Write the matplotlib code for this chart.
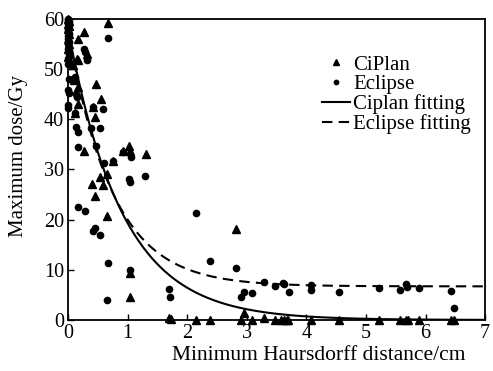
import numpy as np
import matplotlib
matplotlib.use("Agg")
import matplotlib.pyplot as plt

plt.rcParams['font.family'] = ['Liberation Serif', 'DejaVu Serif']
plt.rcParams['mathtext.fontset'] = 'stix'

# CiPlan data (triangles)
ciplan_x = [0.00, 0.01, 0.00, 0.02, 0.00, 0.01, 0.00, 0.02, 0.00, 0.01, 0.00, 0.03,
            0.67, 0.27, 0.16, 0.31, 0.17, 0.08, 0.15, 0.47, 0.55, 0.42, 0.45, 0.10,
            0.17, 0.17, 0.12, 0.27, 0.93, 1.03, 1.31, 1.04, 0.65, 0.75, 0.41, 0.53,
            0.59, 0.46, 0.65, 1.04, 1.04, 2.82,
            1.70, 1.72, 2.15, 2.39, 2.96, 2.91, 3.08, 3.29, 3.47, 3.58, 3.63, 3.67,
            3.69, 4.07, 4.55, 5.22, 5.57, 5.68, 5.71, 5.89, 6.42, 6.48]
ciplan_y = [60.0, 59.5, 59.0, 58.5, 58.0, 57.0, 56.0, 55.0, 54.0, 53.0, 52.5, 51.5,
            59.2, 57.3, 55.9, 53.1, 51.8, 50.8, 52.1, 47.1, 44.0, 42.5, 40.5, 47.8,
            46.4, 43.0, 41.2, 33.7, 33.7, 34.7, 33.1, 33.6, 29.1, 31.7, 27.1, 28.4,
            26.9, 24.7, 20.7, 9.4, 4.5, 18.1,
            0.4, 0.2, 0.0, 0.0, 1.3, 0.0, 0.0, 0.3, 0.0, 0.0, 0.0, 0.0,
            0.0, 0.0, 0.0, 0.0, 0.0, 0.0, 0.0, 0.0, 0.0, 0.0]

# Eclipse data (circles)
eclipse_x = [0.00, 0.00, 0.01, 0.00, 0.01, 0.00, 0.00, 0.01, 0.00, 0.00, 0.01, 0.00,
             0.00, 0.01, 0.00, 0.00, 0.02, 0.00, 0.02, 0.00, 0.00,
             0.67, 0.27, 0.31, 0.29, 0.12, 0.15, 0.13, 0.12, 0.59, 0.42, 0.13, 0.17,
             0.54, 0.38, 0.16, 0.47, 0.60, 0.75, 0.93, 1.06, 1.29, 1.03, 1.04, 0.16,
             0.29, 0.42, 0.53, 0.45, 0.67, 0.65, 1.04, 1.69, 1.71, 2.15, 2.39, 2.82,
             2.90, 2.96, 3.08, 3.29, 3.47, 3.60, 3.62, 3.71, 4.07, 4.07, 4.55, 5.22,
             5.57, 5.68, 5.69, 5.89, 6.42, 6.48]
eclipse_y = [60.0, 59.7, 59.3, 59.0, 58.5, 58.0, 57.5, 57.0, 56.5, 56.0, 55.5, 55.0,
             54.0, 53.0, 52.0, 51.0, 48.1, 45.8, 45.2, 42.8, 42.3,
             56.1, 54.1, 51.8, 53.4, 48.5, 44.5, 45.0, 41.2, 42.0, 42.5, 38.5, 37.5,
             38.2, 38.2, 34.5, 34.7, 31.3, 31.7, 33.5, 32.5, 28.7, 28.0, 27.5, 22.6,
             21.8, 17.8, 16.9, 18.3, 11.4, 3.9, 9.9, 6.1, 4.6, 21.4, 11.8, 10.3,
             4.6, 5.5, 5.4, 7.6, 6.8, 7.4, 7.2, 5.6, 7.0, 6.0, 5.6, 6.3,
             6.0, 7.2, 6.5, 6.3, 5.8, 2.3]

# Fitting parameters
ciplan_fit = {"a": 58.0, "k": 1.10}
eclipse_fit = {"c": 6.7, "a": 51.3, "k": 1.35}

x_ticks = [0, 1, 2, 3, 4, 5, 6, 7]
y_ticks = [0, 10, 20, 30, 40, 50, 60]

fig = plt.figure(figsize=(4.93, 3.71), dpi=100)
ax = fig.add_axes([0.138, 0.1375, 0.846, 0.8115])

ax.plot(ciplan_x, ciplan_y, linestyle='none', marker='^', color='black',
        markersize=6, clip_on=False, label='CiPlan')
ax.plot(eclipse_x, eclipse_y, linestyle='none', marker='o', color='black',
        markersize=4.5, clip_on=False, label='Eclipse')

xf = np.linspace(0, 7, 400)
ax.plot(xf, ciplan_fit["a"] * np.exp(-ciplan_fit["k"] * xf), color='black',
        linewidth=1.5, label='Ciplan fitting')
ax.plot(xf, eclipse_fit["c"] + eclipse_fit["a"] * np.exp(-eclipse_fit["k"] * xf),
        color='black', linewidth=1.5, linestyle=(0, (5, 3)), label='Eclipse fitting')

ax.set_xlim(0, 7)
ax.set_ylim(0, 60)
ax.set_xticks(x_ticks)
ax.set_yticks(y_ticks)
ax.tick_params(direction='in', labelsize=14.5, length=4, width=1, pad=3)
for s in ax.spines.values():
    s.set_linewidth(1.3)
ax.set_xlabel('Minimum Haursdorff distance/cm', fontsize=15.5)
ax.set_ylabel('Maximum dose/Gy', fontsize=15)
ax.xaxis.set_label_coords(0.60, -0.085)
ax.yaxis.set_label_coords(-0.095, 0.545)

ax.legend(loc='upper left', bbox_to_anchor=(0.609, 0.88), frameon=False, fontsize=15,
          handlelength=1.35, handletextpad=0.15, labelspacing=0.0, markerscale=0.7,
          borderaxespad=0, borderpad=0)

fig.savefig('out.png', dpi=100)
